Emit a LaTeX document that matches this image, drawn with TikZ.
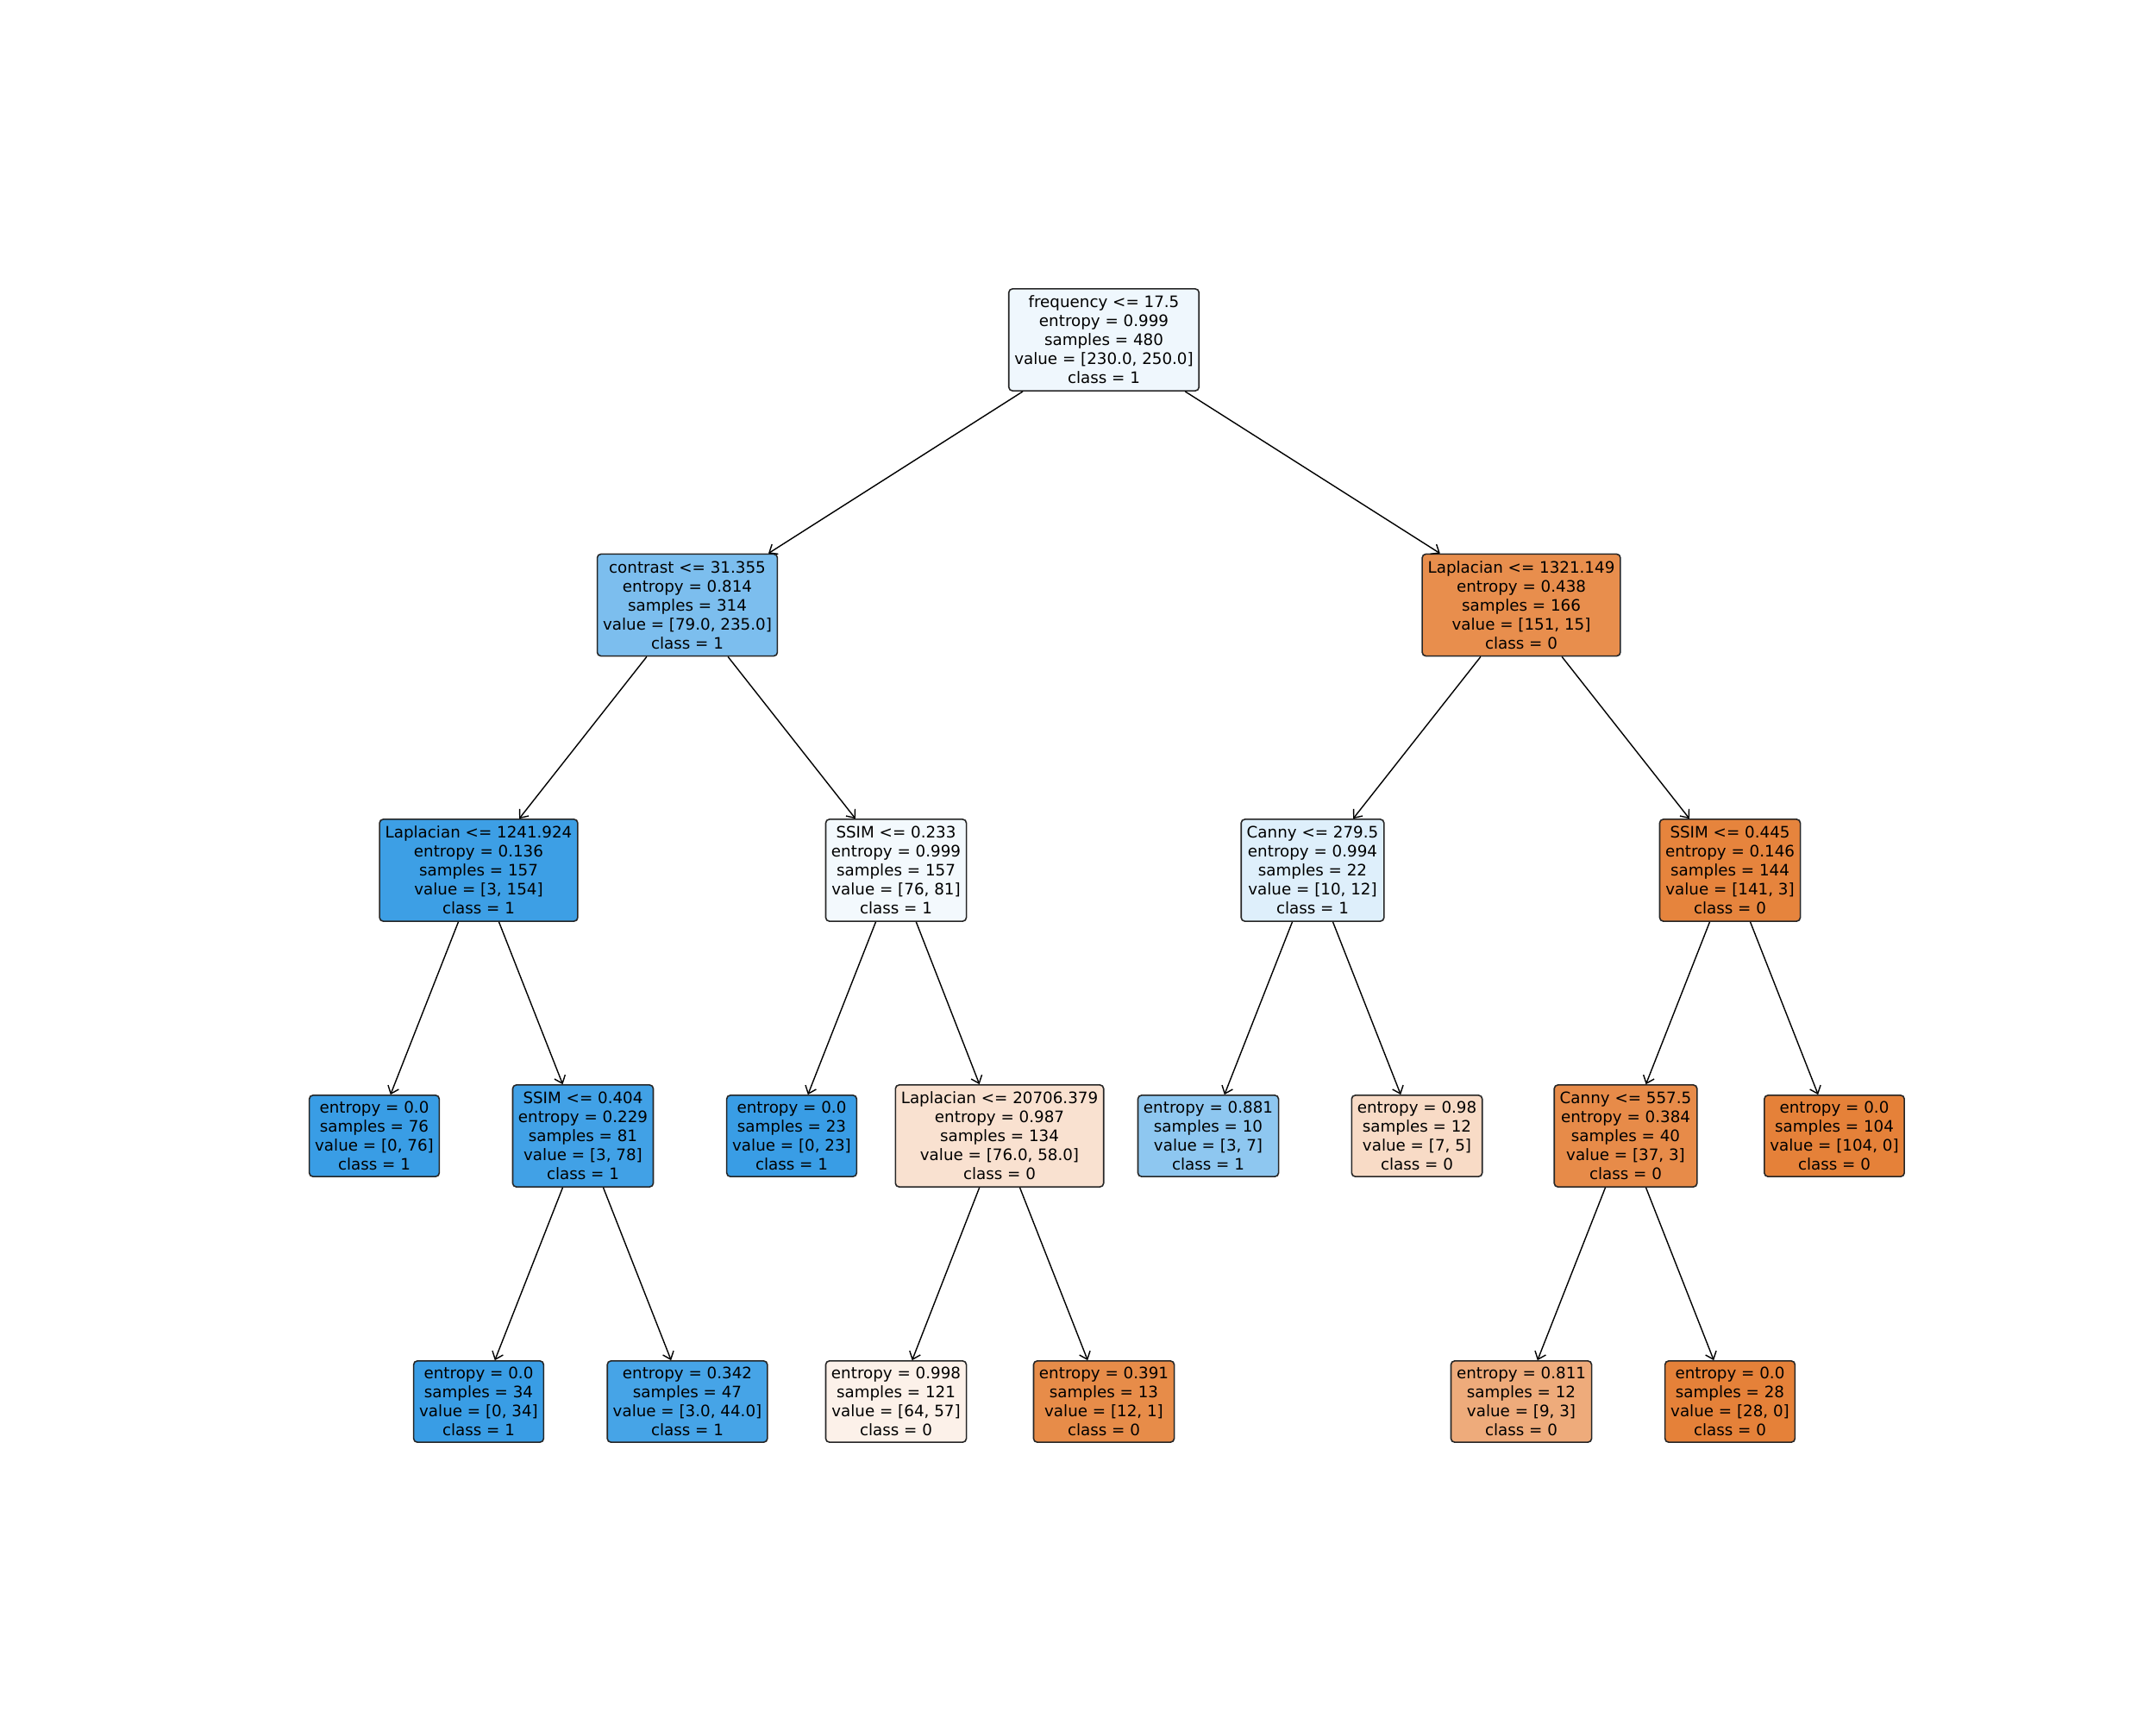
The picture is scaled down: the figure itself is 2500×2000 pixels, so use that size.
\documentclass[tikz,border=0pt]{standalone}
\usepackage{fontspec}
\setmainfont{DejaVu Sans}
\usetikzlibrary{arrows.meta}

% node fill colours (class 0 = orange, class 1 = blue, shaded by purity)
\definecolor{nRoot}{RGB}{239,247,253}
\definecolor{nContrast}{RGB}{124,190,238}
\definecolor{nLapA}{RGB}{232,142,77}
\definecolor{nLapB}{RGB}{61,159,229}
\definecolor{nSsimA}{RGB}{243,249,253}
\definecolor{nCannyA}{RGB}{222,239,251}
\definecolor{nSsimB}{RGB}{230,132,61}
\definecolor{pureBlue}{RGB}{57,157,229}
\definecolor{pureOrange}{RGB}{229,129,57}
\definecolor{nSsimC}{RGB}{65,161,230}
\definecolor{nLapC}{RGB}{249,225,208}
\definecolor{nLeafA}{RGB}{142,199,240}
\definecolor{nLeafB}{RGB}{248,219,198}
\definecolor{nCannyB}{RGB}{231,139,73}
\definecolor{nLeafC}{RGB}{70,164,231}
\definecolor{nLeafD}{RGB}{252,241,233}
\definecolor{nLeafE}{RGB}{231,140,73}
\definecolor{nLeafF}{RGB}{238,171,123}

\tikzset{
  treebox/.style={draw=black!85, line width=0.45pt, rounded corners=1.2pt,
    inner xsep=1.85pt, inner ysep=1pt, align=center,
    font=\fontsize{5.2}{6.24}\selectfont},
  splitbox/.style={treebox, minimum height=33.6pt},
  leafbox/.style={treebox, minimum height=26.8pt},
  edge/.style={line width=0.4pt, -{Straight Barb[length=2.3pt,width=3.8pt]}}
}

\begin{document}
\begin{tikzpicture}[x=0.01cm, y=-0.01cm]
\useasboundingbox (0,0) rectangle (2500,2000);

% depth 0
\node[splitbox, fill=nRoot] (root) at (1280,394)
  {frequency <= 17.5\\entropy = 0.999\\samples = 480\\value = [230.0, 250.0]\\class = 1};

% depth 1
\node[splitbox, fill=nContrast] (contrast) at (797,701.5)
  {contrast <= 31.355\\entropy = 0.814\\samples = 314\\value = [79.0, 235.0]\\class = 1};
\node[splitbox, fill=nLapA] (lapA) at (1764,701.5)
  {Laplacian <= 1321.149\\entropy = 0.438\\samples = 166\\value = [151, 15]\\class = 0};

% depth 2
\node[splitbox, fill=nLapB] (lapB) at (555,1009)
  {Laplacian <= 1241.924\\entropy = 0.136\\samples = 157\\value = [3, 154]\\class = 1};
\node[splitbox, fill=nSsimA] (ssimA) at (1039,1009)
  {SSIM <= 0.233\\entropy = 0.999\\samples = 157\\value = [76, 81]\\class = 1};
\node[splitbox, fill=nCannyA] (cannyA) at (1522,1009)
  {Canny <= 279.5\\entropy = 0.994\\samples = 22\\value = [10, 12]\\class = 1};
\node[splitbox, fill=nSsimB] (ssimB) at (2006,1009)
  {SSIM <= 0.445\\entropy = 0.146\\samples = 144\\value = [141, 3]\\class = 0};

% depth 3
\node[leafbox, fill=pureBlue] (leaf76) at (434,1317)
  {entropy = 0.0\\samples = 76\\value = [0, 76]\\class = 1};
\node[splitbox, fill=nSsimC] (ssimC) at (676,1317)
  {SSIM <= 0.404\\entropy = 0.229\\samples = 81\\value = [3, 78]\\class = 1};
\node[leafbox, fill=pureBlue] (leaf23) at (918,1317)
  {entropy = 0.0\\samples = 23\\value = [0, 23]\\class = 1};
\node[splitbox, fill=nLapC] (lapC) at (1159,1317)
  {Laplacian <= 20706.379\\entropy = 0.987\\samples = 134\\value = [76.0, 58.0]\\class = 0};
\node[leafbox, fill=nLeafA] (leaf10) at (1401,1317)
  {entropy = 0.881\\samples = 10\\value = [3, 7]\\class = 1};
\node[leafbox, fill=nLeafB] (leafTw) at (1643,1317)
  {entropy = 0.98\\samples = 12\\value = [7, 5]\\class = 0};
\node[splitbox, fill=nCannyB] (cannyB) at (1885,1317)
  {Canny <= 557.5\\entropy = 0.384\\samples = 40\\value = [37, 3]\\class = 0};
\node[leafbox, fill=pureOrange] (leaf104) at (2127,1317)
  {entropy = 0.0\\samples = 104\\value = [104, 0]\\class = 0};

% depth 4
\node[leafbox, fill=pureBlue] (leaf34) at (555,1625)
  {entropy = 0.0\\samples = 34\\value = [0, 34]\\class = 1};
\node[leafbox, fill=nLeafC] (leaf47) at (797,1625)
  {entropy = 0.342\\samples = 47\\value = [3.0, 44.0]\\class = 1};
\node[leafbox, fill=nLeafD] (leaf121) at (1039,1625)
  {entropy = 0.998\\samples = 121\\value = [64, 57]\\class = 0};
\node[leafbox, fill=nLeafE] (leaf13) at (1280,1625)
  {entropy = 0.391\\samples = 13\\value = [12, 1]\\class = 0};
\node[leafbox, fill=nLeafF] (leaf12) at (1764,1625)
  {entropy = 0.811\\samples = 12\\value = [9, 3]\\class = 0};
\node[leafbox, fill=pureOrange] (leaf28) at (2006,1625)
  {entropy = 0.0\\samples = 28\\value = [28, 0]\\class = 0};

% connectors
\draw[edge] (root) -- (contrast);
\draw[edge] (root) -- (lapA);
\draw[edge] (contrast) -- (lapB);
\draw[edge] (contrast) -- (ssimA);
\draw[edge] (lapA) -- (cannyA);
\draw[edge] (lapA) -- (ssimB);
\draw[edge] (lapB) -- (leaf76);
\draw[edge] (lapB) -- (ssimC);
\draw[edge] (ssimA) -- (leaf23);
\draw[edge] (ssimA) -- (lapC);
\draw[edge] (cannyA) -- (leaf10);
\draw[edge] (cannyA) -- (leafTw);
\draw[edge] (ssimB) -- (cannyB);
\draw[edge] (ssimB) -- (leaf104);
\draw[edge] (ssimC) -- (leaf34);
\draw[edge] (ssimC) -- (leaf47);
\draw[edge] (lapC) -- (leaf121);
\draw[edge] (lapC) -- (leaf13);
\draw[edge] (cannyB) -- (leaf12);
\draw[edge] (cannyB) -- (leaf28);
\end{tikzpicture}
\end{document}
